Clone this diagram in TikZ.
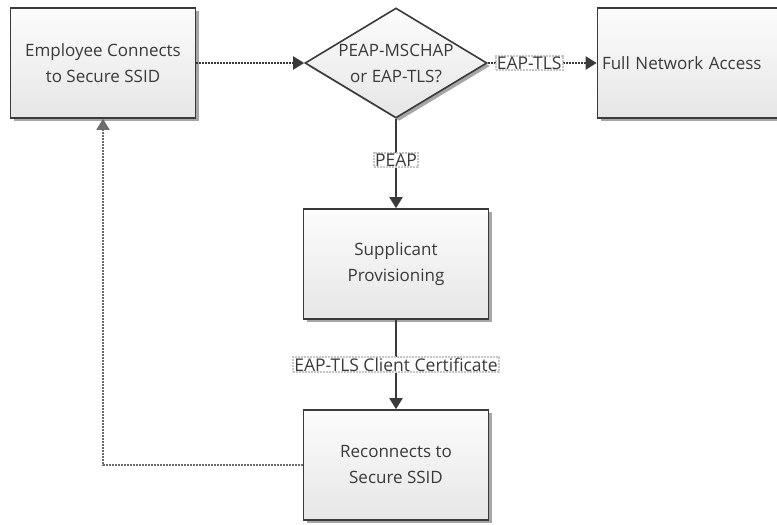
\documentclass[tikz,border=0pt]{standalone}
\usepackage{fontspec}
\setmainfont{Open Sans}
\usetikzlibrary{shapes.geometric,arrows.meta,shadows}

\definecolor{inkgray}{HTML}{3A3A3A}
\definecolor{boxtop}{HTML}{FCFCFC}
\definecolor{boxbot}{HTML}{E6E6E6}

\tikzset{
  stepbox/.style={draw=inkgray,line width=1.6pt,top color=boxtop,bottom color=boxbot,
    minimum width=185pt,minimum height=110pt,align=center,text=inkgray,
    font=\fontsize{17}{26}\selectfont,
    drop shadow={shadow xshift=3pt,shadow yshift=-3pt,fill=gray!70,opacity=1}},
  choice/.style={stepbox,diamond,aspect=1.65,inner sep=0pt,minimum width=182pt,minimum height=110pt},
  tag/.style={draw=gray!45,densely dotted,fill=white,inner sep=1pt,text=inkgray,
    font=\fontsize{17.5}{20}\selectfont},
  flow/.style={-{Triangle[width=13pt,length=11pt]},line width=2pt,draw=inkgray},
  dotflow/.style={flow,densely dotted},
  back/.style={flow,densely dotted,line width=1.6pt,draw=gray!85!black}
}

\begin{document}
\begin{tikzpicture}[x=1pt,y=-1pt]
      \useasboundingbox (0,0) rectangle (777,525);
      \draw
        (103, 63) node[stepbox] (employee){Employee Connects\\to Secure SSID}
        (396, 63) node[choice] (method){PEAP-MSCHAP\\or EAP-TLS?}
        (690, 63) node[stepbox,align=left,text width=176pt] (access){Full Network Access}
        (396, 264) node[stepbox] (supplicant){Supplicant\\Provisioning}
        (396, 465) node[stepbox] (reconnect){Reconnects to\\Secure SSID};
      \draw (103, 465) coordinate (corner);
      \begin{scope}
        \draw[dotflow] (employee) to (method);
        \draw[dotflow] (method) to node[tag,pos=0.38] {EAP-TLS} (access);
        \draw[flow] (method) to node[tag,pos=0.46] {PEAP} (supplicant);
        \draw[flow] (supplicant) to node[tag,pos=0.5] {EAP-TLS Client Certificate} (reconnect);
        \draw[back] (reconnect.west) -- (corner) -- (employee.south);
      \end{scope}
    \end{tikzpicture}
\end{document}
